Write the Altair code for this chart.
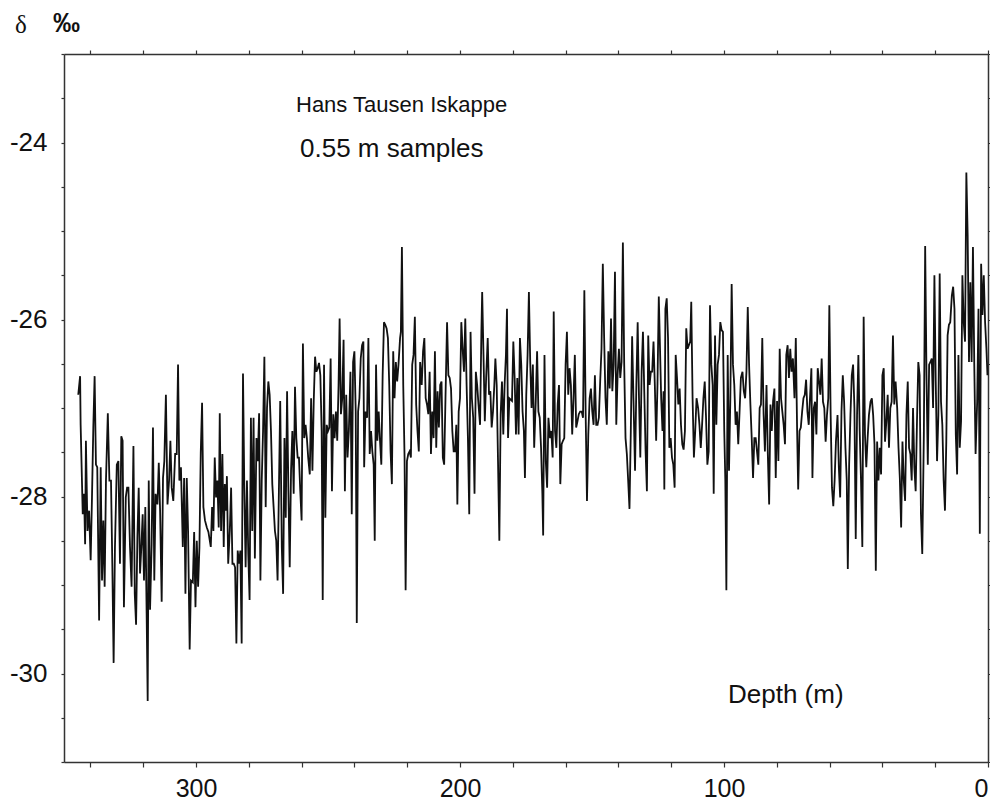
import altair as alt
import pandas as pd

# ---- data (depth in m, delta in per mil) ----
depth_a = [344.6, 343.9, 343.7, 342.9, 342.4, 342.0, 341.7, 341.1, 340.5, 339.9, 339.4, 338.9, 338.4, 337.9, 337.4,
           336.7, 336.1, 335.6, 335.1, 334.6, 334.1, 333.4, 332.8, 332.2, 331.7, 331.2, 330.7, 330.0, 329.4, 328.8,
           328.3, 327.8, 327.3, 326.6, 326.1, 325.6, 325.0, 324.4, 323.7, 323.2, 322.7, 322.2, 321.7, 321.2, 320.7,
           320.2, 319.7, 319.2, 318.7, 318.3, 317.9, 317.4, 316.8, 316.3, 315.8, 315.3, 314.6, 314.1, 313.6, 313.0,
           312.5, 312.0, 311.4, 310.8, 310.2, 309.7, 309.2, 308.6, 307.9, 307.3, 306.8, 306.3, 305.7, 305.0, 304.5,
           304.0, 303.5, 303.0, 302.4, 301.9, 301.2, 300.7, 300.2, 299.7, 299.2, 298.7, 298.2, 297.7, 297.2, 296.6,
           295.9, 295.3]
delta_a = [-26.85, -26.64, -27.19, -28.20, -27.97, -28.54, -27.37, -28.39, -28.16, -28.72, -28.01, -27.22, -26.64, -27.64, -27.67,
           -29.40, -27.67, -28.95, -28.27, -29.02, -27.82, -27.06, -27.82, -27.82, -28.76, -29.88, -28.57, -27.64, -27.60, -28.76,
           -27.32, -27.37, -29.25, -28.01, -27.90, -27.90, -28.57, -29.02, -27.43, -29.10, -29.45, -28.46, -27.90, -28.87, -28.57,
           -28.20, -28.95, -28.12, -29.32, -30.31, -27.82, -29.28, -28.54, -27.22, -28.95, -27.97, -28.09, -27.62, -28.16, -29.19,
           -27.79, -27.60, -26.85, -28.09, -27.82, -27.37, -27.90, -28.05, -27.52, -27.52, -26.51, -27.82, -27.67, -28.57, -27.79,
           -29.10, -27.79, -28.39, -29.73, -28.95, -28.97, -28.40, -29.25, -28.50, -29.02, -28.57, -27.51, -26.94, -28.12, -28.27,
           -28.35, -28.40]

depth_b = [294.4, 293.9, 293.4, 292.9, 292.4, 291.9, 291.4, 291.0, 290.5, 290.0, 289.5, 289.1, 288.6, 288.3, 287.8,
           287.2, 286.7, 286.2, 285.7, 285.2, 284.7, 284.2, 283.7, 283.2, 282.7, 282.2, 281.7, 281.2, 280.7, 280.2,
           279.7, 279.2, 278.7, 278.2, 277.7, 277.1, 276.6, 276.1, 275.6, 275.1, 274.6, 274.1, 273.6, 273.1, 272.6,
           272.1, 271.6, 271.1, 270.6, 270.1, 269.6, 269.1, 268.6, 268.1, 267.5, 267.0, 266.5, 266.0, 265.5, 265.0,
           264.5, 264.0, 263.5, 263.0, 262.5, 262.0, 261.5, 261.0, 260.5, 260.0, 259.5, 259.0, 258.5, 258.0, 257.5,
           256.9, 256.4, 255.9, 255.4, 254.9, 254.4, 253.9, 253.4, 252.9, 252.4, 252.0, 251.5, 251.0, 250.5, 250.0,
           249.5, 249.0, 248.5, 248.0, 247.5, 247.0, 246.5, 246.0, 245.6, 245.1, 244.6, 244.1, 243.6, 243.1, 242.6,
           242.1, 241.5, 241.0, 240.5, 240.0, 239.5, 239.1, 238.6, 238.1]
delta_b = [-28.57, -28.12, -28.39, -27.56, -28.01, -27.82, -28.35, -27.06, -28.39, -27.52, -28.57, -27.86, -28.16, -27.77, -28.76,
           -28.39, -27.90, -28.76, -28.76, -28.80, -29.66, -28.61, -28.76, -28.61, -29.66, -26.61, -27.90, -28.80, -27.82, -28.65,
           -29.17, -27.11, -28.39, -27.11, -28.70, -27.34, -27.60, -27.06, -28.95, -27.82, -27.26, -26.42, -28.12, -27.00, -26.70,
           -26.85, -27.26, -27.86, -28.12, -28.39, -28.50, -28.95, -27.94, -26.92, -28.57, -29.10, -27.34, -28.24, -26.81, -27.94,
           -28.80, -27.71, -27.26, -27.97, -26.76, -27.34, -27.56, -27.56, -27.94, -28.27, -26.27, -27.34, -27.19, -27.34, -27.56,
           -27.75, -26.89, -27.71, -26.92, -26.42, -26.59, -26.55, -26.49, -26.63, -27.26, -29.17, -26.51, -28.24, -27.19, -27.26,
           -27.22, -26.44, -27.94, -27.07, -27.34, -27.04, -27.37, -26.74, -25.99, -27.07, -26.89, -26.23, -27.94, -26.85, -27.56,
           -27.26, -26.59, -28.20, -26.48, -26.36, -27.04, -29.43, -27.04, -26.89]

depth_c = [237.6, 237.1, 236.6, 236.3, 235.8, 235.2, 234.7, 234.2, 233.7, 233.2, 232.7, 232.3, 231.8, 231.3, 230.8,
           230.3, 229.8, 229.3, 228.8, 228.3, 227.8, 227.3, 226.8, 226.3, 225.8, 225.3, 224.8, 224.3, 223.8, 223.3,
           222.7, 222.4, 222.0, 221.5, 221.0, 220.6, 220.1, 219.6, 219.1, 218.6, 218.1, 217.6, 217.1, 216.6, 216.1,
           215.6, 215.1, 214.5, 214.0, 213.5, 213.0, 212.5, 212.0, 211.5, 211.0, 210.5, 210.0, 209.5, 209.0, 208.5,
           208.0, 207.5, 207.0, 206.5, 206.0, 205.5, 204.9, 204.4, 203.9, 203.4, 202.9, 202.4, 201.9, 201.4, 201.0,
           200.5, 200.0, 199.5, 199.0, 198.5, 198.0, 197.5, 197.0, 196.5, 196.0, 195.5, 195.0, 194.5, 194.0, 193.5,
           193.0, 192.4, 191.9, 191.6, 191.1, 190.6, 190.1, 189.5, 189.0, 188.5, 188.0, 187.5, 187.0, 186.6, 186.1,
           185.6, 185.1, 184.6, 184.1, 183.6, 183.1, 182.6, 182.2, 181.8, 181.3]
delta_c = [-26.44, -26.29, -26.25, -27.67, -27.04, -27.11, -26.21, -27.52, -27.26, -27.49, -27.64, -28.50, -26.51, -27.37, -27.04,
           -27.37, -27.64, -26.63, -26.03, -26.06, -26.10, -26.21, -26.74, -27.49, -27.86, -26.36, -26.89, -26.48, -26.70, -26.51,
           -26.21, -26.14, -25.18, -26.74, -27.56, -29.06, -27.60, -27.52, -27.49, -27.56, -26.51, -26.40, -25.97, -26.96, -27.26,
           -27.49, -26.48, -26.74, -26.36, -26.21, -26.89, -26.96, -27.07, -26.59, -27.52, -27.04, -27.34, -26.36, -27.45, -26.81,
           -27.22, -26.74, -26.70, -27.56, -27.64, -26.89, -26.03, -26.63, -26.66, -26.78, -27.26, -27.49, -27.49, -27.19, -28.09,
           -27.04, -26.89, -26.03, -26.33, -26.59, -25.99, -26.74, -27.34, -28.20, -26.14, -26.89, -27.11, -27.97, -26.59, -26.74,
           -26.96, -27.19, -26.14, -25.69, -26.40, -27.15, -26.66, -26.21, -26.85, -26.81, -27.22, -27.04, -26.74, -26.44, -26.74,
           -27.60, -28.50, -27.07, -26.70, -27.30, -26.74, -26.40, -25.88, -27.34, -26.89]

depth_d = [180.3, 179.8, 179.3, 178.8, 178.3, 177.8, 177.3, 176.8, 176.3, 175.8, 175.4, 174.9, 174.4, 173.9, 173.4,
           172.9, 172.4, 171.9, 171.3, 170.8, 170.3, 169.8, 169.3, 168.8, 168.5, 168.0, 167.5, 167.0, 166.5, 165.9,
           165.4, 164.9, 164.5, 164.0, 163.5, 163.0, 162.5, 162.0, 161.5, 161.0, 160.5, 160.0, 159.5, 159.0, 158.5,
           158.0, 157.5, 157.0, 156.5, 156.0, 155.5, 155.0, 154.5, 153.9, 153.4, 152.9, 152.4, 151.9, 151.4, 150.9,
           150.4, 149.9, 149.4, 148.9, 148.4, 147.9, 147.4, 146.9, 146.4, 145.9, 145.4, 144.9, 144.4, 143.8, 143.3,
           142.8, 142.3, 141.8, 141.3, 140.8, 140.3, 139.8, 139.3, 138.8, 138.3, 137.8, 137.3, 136.8, 136.3, 135.8,
           135.3, 134.8, 134.3, 133.7, 133.2, 132.7, 132.2, 131.7, 131.2, 130.7, 130.2, 129.7, 129.2, 128.7, 128.2,
           127.7, 127.2, 126.7, 126.2, 125.7, 125.2, 124.7]
delta_d = [-26.92, -26.25, -26.66, -27.30, -26.66, -27.30, -26.21, -26.51, -27.04, -27.26, -27.79, -26.85, -26.40, -25.69, -26.48,
           -27.00, -26.51, -27.45, -26.92, -26.36, -27.04, -27.11, -27.45, -27.97, -28.44, -26.40, -27.60, -27.90, -27.11, -27.34,
           -27.26, -27.56, -25.91, -27.26, -27.45, -26.96, -26.74, -27.86, -27.41, -27.37, -27.34, -26.51, -26.14, -26.85, -26.55,
           -26.74, -27.30, -26.89, -26.40, -27.22, -27.15, -27.07, -27.04, -27.04, -27.11, -25.67, -27.07, -28.05, -27.30, -26.89,
           -26.78, -27.04, -27.19, -26.63, -27.19, -27.19, -27.11, -26.70, -26.33, -25.37, -26.21, -26.89, -27.19, -26.36, -26.78,
           -25.99, -26.81, -26.51, -25.46, -27.19, -26.63, -26.33, -26.66, -26.48, -25.13, -26.51, -27.34, -27.52, -27.82, -28.14,
           -27.26, -26.19, -26.89, -27.71, -26.74, -26.03, -26.89, -27.56, -26.59, -26.14, -26.81, -27.49, -27.94, -26.18, -26.74,
           -26.59, -26.59, -26.25, -26.74, -27.37, -26.74, -25.74]

depth_e = [123.8, 123.3, 122.9, 122.6, 122.2, 121.7, 121.2, 120.7, 120.2, 119.7, 119.2, 118.7, 118.3, 117.8, 117.3,
           116.8, 116.3, 115.8, 115.3, 114.8, 114.3, 113.8, 113.3, 112.8, 112.4, 111.9, 111.4, 110.9, 110.4, 109.8,
           109.3, 108.8, 108.3, 107.8, 107.3, 106.8, 106.3, 105.8, 105.3, 104.8, 104.3, 103.9, 103.4, 102.9, 102.4,
           101.9, 101.4, 100.9, 100.4, 99.9, 99.5, 99.1, 98.6, 98.1, 97.6, 97.1, 96.6, 96.1, 95.6, 95.1,
           94.6, 94.1, 93.6, 93.0, 92.5, 92.0, 91.5, 91.0, 90.5, 90.0, 89.5, 89.0, 88.5, 88.0, 87.5,
           87.0, 86.5, 86.0, 85.5, 85.0, 84.5, 83.9, 83.4, 82.9, 82.4, 81.9, 81.4, 80.9, 80.4, 79.9,
           79.4, 78.9, 78.4, 77.9, 77.4, 76.9, 76.4, 75.9, 75.4, 74.9, 74.4, 73.9, 73.3, 72.8, 72.3,
           71.9, 71.4, 70.9, 70.4, 69.9, 69.4, 68.9, 68.4, 67.9]
delta_e = [-26.89, -27.26, -26.81, -27.92, -25.88, -25.76, -26.21, -27.45, -27.34, -27.56, -27.64, -27.90, -26.40, -26.66, -26.96,
           -26.78, -27.19, -27.41, -27.47, -27.26, -26.10, -26.33, -26.29, -26.25, -25.80, -26.89, -27.56, -27.26, -26.89, -27.00,
           -27.19, -27.45, -27.19, -26.89, -26.70, -27.11, -27.64, -27.49, -25.84, -26.51, -26.74, -27.97, -26.18, -27.19, -26.51,
           -26.40, -26.03, -26.12, -26.14, -27.26, -27.82, -29.06, -26.40, -27.71, -26.89, -25.60, -26.51, -26.74, -27.19, -27.04,
           -27.41, -27.04, -26.66, -26.59, -26.81, -26.89, -26.59, -25.86, -26.51, -26.96, -27.34, -27.79, -27.34, -27.34, -27.49,
           -27.64, -27.00, -26.96, -26.21, -27.07, -27.49, -26.74, -27.52, -28.09, -26.96, -27.26, -26.92, -26.78, -27.79, -26.92,
           -27.60, -26.33, -26.89, -27.04, -27.19, -27.41, -26.40, -26.29, -26.66, -26.33, -26.59, -26.44, -26.89, -26.21, -27.26,
           -27.92, -27.26, -27.22, -27.04, -26.89, -26.85, -26.68, -27.04, -27.19]

depth_f = [66.9, 66.5, 66.0, 65.5, 65.0, 64.5, 64.0, 63.5, 63.0, 62.5, 62.0, 61.5, 61.0, 60.5, 60.1,
           59.6, 59.1, 58.6, 58.1, 57.6, 57.0, 56.5, 56.0, 55.5, 55.0, 54.5, 54.0, 53.5, 53.1, 52.6,
           52.1, 51.6, 51.1, 50.6, 50.1, 49.6, 49.1, 48.6, 48.1, 47.6, 47.1, 46.6, 46.1, 45.6, 45.1,
           44.5, 44.0, 43.5, 43.0, 42.5, 42.0, 41.5, 41.0, 40.5, 40.0, 39.5, 39.0, 38.5, 38.0, 37.5,
           37.0, 36.5, 36.0, 35.5, 35.0, 34.4, 33.9, 33.4, 32.9, 32.4, 31.9, 31.4, 30.9, 30.4, 29.9,
           29.4, 28.9, 28.4, 27.9, 27.4, 26.9, 26.4, 25.9, 25.4, 24.9, 24.3, 23.8, 23.3, 22.8, 22.3,
           21.8, 21.3, 20.8, 20.3, 19.8, 19.3, 18.8, 18.3, 17.8, 17.3, 16.8, 16.3, 15.8, 15.3, 14.8,
           14.3, 13.7, 13.2, 12.7, 12.2, 11.7, 11.2, 10.7, 10.2, 9.7, 9.2, 8.7, 8.2, 7.7, 7.2,
           6.7, 6.2, 5.7, 5.2, 4.7, 4.1, 3.6, 3.1, 2.6, 2.1, 1.6, 1.1, 0.6, 0.2]
delta_f = [-26.55, -27.79, -27.00, -26.93, -27.30, -26.55, -26.70, -26.85, -26.44, -26.93, -27.00, -27.38, -27.08, -26.89, -25.84,
           -27.08, -27.90, -28.11, -27.82, -27.38, -27.08, -27.67, -28.01, -27.04, -26.63, -26.93, -27.45, -27.82, -28.82, -27.64,
           -27.08, -26.63, -26.51, -27.00, -28.48, -27.08, -26.40, -27.26, -27.82, -28.57, -25.97, -27.30, -27.67, -27.34, -27.08,
           -26.93, -26.89, -27.08, -27.41, -28.84, -27.38, -27.82, -27.45, -27.75, -26.63, -26.55, -27.38, -27.15, -26.85, -27.45,
           -27.00, -26.93, -26.18, -26.96, -26.70, -27.00, -27.45, -27.79, -28.35, -27.38, -27.82, -28.05, -27.08, -26.70, -27.45,
           -27.52, -27.82, -27.00, -27.67, -27.94, -27.15, -26.48, -26.63, -28.20, -28.65, -27.30, -25.17, -26.63, -27.64, -26.51,
           -26.48, -26.44, -27.00, -25.50, -26.70, -27.60, -27.08, -25.48, -26.93, -27.19, -27.82, -28.16, -27.38, -26.18, -26.06,
           -26.03, -25.73, -25.63, -25.88, -27.30, -27.75, -26.40, -27.45, -27.15, -25.50, -26.03, -26.25, -24.34, -25.05, -26.48,
           -25.58, -26.48, -25.18, -26.51, -27.52, -26.93, -25.88, -28.42, -25.37, -25.95, -25.50, -26.03, -26.33, -26.63]

x_ticks = list(range(0, 341, 20))
y_ticks = [-31 + 0.5 * i for i in range(17)]
annotations = ["Hans Tausen Iskappe", "0.55 m samples", "Depth (m)", "δ", "‰"]

depth = depth_a + depth_b + depth_c + depth_d + depth_e + depth_f
delta = delta_a + delta_b + delta_c + delta_d + delta_e + delta_f
df = pd.DataFrame({"depth": depth, "delta": delta})

FONT = "Liberation Sans"
AX = "#333333"

x_scale = alt.Scale(domain=[0, 350], reverse=True, nice=False, zero=False)
y_scale = alt.Scale(domain=[-31, -23], nice=False, zero=False)

common_axis = dict(grid=False, title=None, domainColor=AX, tickColor=AX, domainWidth=1.5,
                   tickWidth=1.2, labelFont=FONT, labelColor="#111111", labelOverlap=False)

line = alt.Chart(df).mark_line(color="#111111", strokeWidth=1.8).encode(
    x=alt.X("depth:Q", scale=x_scale,
            axis=alt.Axis(orient="bottom", values=x_ticks, tickSize=5, labelPadding=9, labelFontSize=25,
                          labelFlush=True,
                          labelExpr="datum.value % 100 === 0 ? datum.label : ''", **common_axis)),
    y=alt.Y("delta:Q", scale=y_scale,
            axis=alt.Axis(orient="left", values=y_ticks, tickSize=3, labelPadding=14, labelFontSize=26,
                          labelFlush=False,
                          labelExpr="datum.value % 2 === 0 ? '' + datum.value : ''", **common_axis)),
)

frame = alt.Chart(df).mark_line(opacity=0).encode(
    x=alt.X("depth:Q", scale=x_scale,
            axis=alt.Axis(orient="top", values=x_ticks, tickSize=4, labels=False, **common_axis)),
    y=alt.Y("delta:Q", scale=y_scale,
            axis=alt.Axis(orient="right", values=y_ticks, tickSize=3, labels=False, **common_axis)),
)

def label(text, x, y, size, font=FONT, weight="normal"):
    return alt.Chart(pd.DataFrame({"t": [text]})).mark_text(
        align="left", baseline="alphabetic", fontSize=size, font=font, fontWeight=weight, color="#111111"
    ).encode(x=alt.value(x), y=alt.value(y), text="t:N")

texts = (
    label(annotations[0], 232, 58, 22)
    + label(annotations[1], 236, 103, 26)
    + label(annotations[2], 664, 649, 26)
    + label(annotations[3], -49, -21, 25, font="Liberation Serif")
    + label(annotations[4], -11, -22, 27, weight="bold")
)

chart = alt.layer(line, frame, texts).resolve_axis(x="independent", y="independent").properties(
    width=924, height=708,
    autosize=alt.AutoSizeParams(type="none"),
    padding={"left": 56, "top": 46, "right": 2, "bottom": 39},
    background="white",
).configure_view(stroke=None)

chart.save("out.html", embed_options={"renderer": "svg", "actions": False})
